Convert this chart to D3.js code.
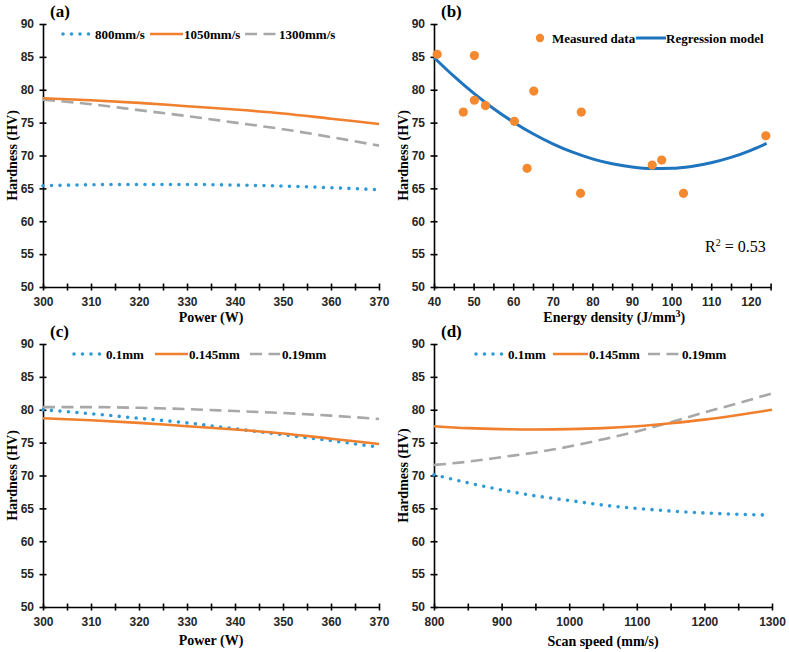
<!DOCTYPE html>
<html lang="en">
<head>
    <meta charset="UTF-8">
    <title>Hardness charts</title>
    <style>
        body { margin: 0; background: #fff; }
        svg { display: block; }
        .axis path, .axis line { stroke: #000; stroke-width: 1.6; }
        .axis text { font-family: "Liberation Sans", Arial, sans-serif; font-weight: bold; font-size: 12px; fill: #262626; }
        .title { font-family: "Liberation Serif", "Times New Roman", serif; font-weight: bold; fill: #000; }
        .legend { font-family: "Liberation Serif", "Times New Roman", serif; font-weight: bold; font-size: 13px; fill: #000; }
        .dotted { fill: none; stroke: #2E9AD8; stroke-width: 3.6; stroke-linecap: round; stroke-dasharray: 0 8.5; }
        .solid { fill: none; stroke: #F07F2E; stroke-width: 2.6; }
        .dashed { fill: none; stroke: #A8A8A8; stroke-width: 2.6; stroke-dasharray: 12 6.5; }
        .model { fill: none; stroke: #1F74BE; stroke-width: 3; }
        .measured { fill: #F5892F; }
    </style>
</head>
<body>
<div id="chart"></div>
<script src="https://cdn.jsdelivr.net/npm/d3@7"></script>
<script>
    // y axis (all panels)
    const hvTicks = [50, 55, 60, 65, 70, 75, 80, 85, 90];

    // (a) power vs hardness for scan speeds
    const powerTicks = [300, 305, 310, 315, 320, 325, 330, 335, 340, 345, 350, 355, 360, 365, 370];
    const power = [300, 310, 320, 330, 340, 350, 360, 370];
    const hv800 = [65.4, 65.55, 65.6, 65.6, 65.5, 65.35, 65.1, 64.8];
    const hv1050 = [78.7, 78.4, 78.0, 77.5, 77.0, 76.4, 75.6, 74.8];
    const hv1300 = [78.5, 77.8, 76.9, 76.0, 75.0, 74.0, 72.8, 71.5];

    // (b) energy density
    const energyTicks = [40, 45, 50, 55, 60, 65, 70, 75, 80, 85, 90, 95, 100, 105, 110, 115, 120, 125];
    const energyMeasured = [40.8, 50.2, 47.4, 50.2, 53.0, 60.3, 65.2, 63.5, 77.2, 77.0, 95.1, 97.5, 103.0, 123.8];
    const hvMeasured = [85.4, 85.2, 76.6, 78.4, 77.6, 75.2, 79.8, 68.05, 76.6, 64.25, 68.55, 69.3, 64.25, 73.0];
    const energyModel = [40, 45, 50, 55, 60, 65, 70, 75, 80, 85, 90, 95, 100, 105, 110, 115, 120, 124];
    const hvModel = [84.9, 82.06, 79.48, 77.16, 75.11, 73.31, 71.78, 70.5, 69.49, 68.74, 68.25, 68.02, 68.05, 68.34, 68.9, 69.71, 70.79, 71.83];

    // (c) power vs hardness for hatch spacing
    const hvHatch01 = [80.0, 79.4, 78.7, 78.0, 77.1, 76.2, 75.3, 74.3];
    const hvHatch0145 = [78.7, 78.4, 78.0, 77.5, 77.0, 76.4, 75.6, 74.8];
    const hvHatch019 = [80.4, 80.4, 80.3, 80.1, 79.8, 79.5, 79.1, 78.6];

    // (d) scan speed vs hardness
    const speedTicks = [800, 850, 900, 950, 1000, 1050, 1100, 1150, 1200, 1250, 1300];
    const speed = [800, 850, 900, 950, 1000, 1050, 1100, 1150, 1200, 1250, 1300];
    const speed01 = [800, 850, 900, 950, 1000, 1050, 1100, 1150, 1200, 1250, 1290];
    const hvSpeed01 = [70.1, 68.9, 67.8, 66.9, 66.2, 65.5, 65.0, 64.6, 64.3, 64.1, 64.0];
    const hvSpeed0145 = [77.5, 77.2, 77.05, 77.0, 77.05, 77.2, 77.5, 77.95, 78.5, 79.2, 80.0];
    const hvSpeed019 = [71.6, 72.1, 72.8, 73.5, 74.4, 75.5, 76.7, 78.1, 79.6, 81.0, 82.5];

    let svg = d3.select("#chart").append("svg")
        .attr("width", 789)
        .attr("height", 652);

    function drawPanel(p) {
        let g = svg.append("g");
        let x = d3.scaleLinear().domain(p.xDomain).range([p.left, p.right]);
        let y = d3.scaleLinear().domain([50, 90]).range([p.bottom, p.top]);

        // axes, ticks cross the axis line
        let xAxis = g.append("g")
            .attr("class", "axis")
            .attr("transform", "translate(0," + p.bottom + ")")
            .call(d3.axisBottom(x)
                .tickValues(p.xTicks)
                .tickSizeOuter(0)
                .tickSizeInner(3.5)
                .tickFormat(function (d) { return d % p.labelStep === 0 ? d : ""; }));
        xAxis.selectAll(".tick line").attr("y1", -3.5).attr("y2", 3.5);
        xAxis.selectAll(".tick text").attr("y", 10);

        let yAxis = g.append("g")
            .attr("class", "axis")
            .attr("transform", "translate(" + p.left + ",0)")
            .call(d3.axisLeft(y).tickValues(hvTicks).tickSizeOuter(0).tickSizeInner(3.5));
        yAxis.selectAll(".tick line").attr("x1", -3.5).attr("x2", 3.5);
        yAxis.selectAll(".tick text").attr("x", -9);

        let line = d3.line()
            .x(function (d) { return x(d[0]); })
            .y(function (d) { return y(d[1]); })
            .curve(d3.curveMonotoneX);

        p.series.forEach(function (s) {
            g.append("path")
                .datum(d3.zip(s.x, s.y))
                .attr("class", s.cls)
                .attr("d", line);
        });

        if (p.points) {
            g.selectAll(".measured")
                .data(d3.zip(p.points.x, p.points.y))
                .enter()
                .append("circle")
                .attr("class", "measured")
                .attr("cx", function (d) { return x(d[0]); })
                .attr("cy", function (d) { return y(d[1]); })
                .attr("r", 4.6);
        }

        // titles
        g.append("text")
            .attr("class", "title")
            .attr("x", p.left + 7)
            .attr("y", p.top - 7)
            .attr("font-size", 17)
            .text(p.tag);
        g.append("text")
            .attr("class", "title")
            .attr("font-size", 14)
            .attr("text-anchor", "middle")
            .attr("transform", "translate(" + (p.left - 26) + "," + ((p.top + p.bottom) / 2) + ") rotate(-90)")
            .text(p.yTitle);
        let xt = g.append("text")
            .attr("class", "title")
            .attr("font-size", 14)
            .attr("text-anchor", "middle")
            .attr("x", (p.left + p.right) / 2 + (p.xTitleDx || 0))
            .attr("y", p.bottom + p.xTitleDy)
            .text(p.xTitle);
        if (p.xTitleSup) {
            xt.append("tspan").attr("dy", -5).attr("font-size", 10).text(p.xTitleSup);
            xt.append("tspan").attr("dy", 5).text(")");
        }

        // legend
        let lg = g.append("g");
        p.legend.forEach(function (l) {
            if (l.cls === "measured") {
                lg.append("circle").attr("class", "measured")
                    .attr("cx", (l.x0 + l.x1) / 2).attr("cy", p.legendY).attr("r", 4.2);
            } else {
                lg.append("line").attr("class", l.cls)
                    .attr("x1", l.x0).attr("x2", l.x1)
                    .attr("y1", p.legendY).attr("y2", p.legendY);
            }
            lg.append("text").attr("class", "legend")
                .attr("x", l.tx).attr("y", p.legendY + 4.5)
                .text(l.label);
        });
        return g;
    }

    drawPanel({
        tag: "(a)", left: 43, right: 379, top: 24, bottom: 287,
        xDomain: [300, 370], xTicks: powerTicks, labelStep: 10,
        yTitle: "Hardness (HV)", xTitle: "Power (W)", xTitleDy: 35,
        series: [
            {x: power, y: hv800, cls: "dotted"},
            {x: power, y: hv1300, cls: "dashed"},
            {x: power, y: hv1050, cls: "solid"}
        ],
        legendY: 34,
        legend: [
            {cls: "dotted", x0: 63, x1: 90, tx: 95, label: "800mm/s"},
            {cls: "solid", x0: 150, x1: 183, tx: 184, label: "1050mm/s"},
            {cls: "dashed", x0: 245, x1: 277, tx: 279, label: "1300mm/s"}
        ]
    });

    let pb = drawPanel({
        tag: "(b)", left: 434, right: 770.6, top: 24, bottom: 287,
        xDomain: [40, 125], xTicks: energyTicks, labelStep: 10,
        yTitle: "Hardness (HV)", xTitle: "Energy density (J/mm", xTitleSup: "3", xTitleDy: 35, xTitleDx: 12,
        series: [
            {x: energyModel, y: hvModel, cls: "model"}
        ],
        points: {x: energyMeasured, y: hvMeasured},
        legendY: 38,
        legend: [
            {cls: "measured", x0: 536, x1: 544, tx: 552, label: "Measured data"},
            {cls: "model", x0: 636, x1: 666, tx: 666, label: "Regression model"}
        ]
    });
    pb.append("text")
        .attr("x", 705).attr("y", 252)
        .attr("font-family", "'Liberation Serif', 'Times New Roman', serif")
        .attr("font-size", 16)
        .text("R")
        .append("tspan").attr("dy", -6).attr("font-size", 10).text("2")
        .select(function () { return this.parentNode; })
        .append("tspan").attr("dy", 6).text(" = 0.53");

    drawPanel({
        tag: "(c)", left: 43, right: 379, top: 344, bottom: 607,
        xDomain: [300, 370], xTicks: powerTicks, labelStep: 10,
        yTitle: "Hardness (HV)", xTitle: "Power (W)", xTitleDy: 38,
        series: [
            {x: power, y: hvHatch019, cls: "dashed"},
            {x: power, y: hvHatch01, cls: "dotted"},
            {x: power, y: hvHatch0145, cls: "solid"}
        ],
        legendY: 354,
        legend: [
            {cls: "dotted", x0: 74, x1: 101, tx: 106, label: "0.1mm"},
            {cls: "solid", x0: 155, x1: 188, tx: 189, label: "0.145mm"},
            {cls: "dashed", x0: 250, x1: 280, tx: 282, label: "0.19mm"}
        ]
    });

    drawPanel({
        tag: "(d)", left: 434, right: 772, top: 344, bottom: 607,
        xDomain: [800, 1300], xTicks: speedTicks, labelStep: 100,
        yTitle: "Hardmess (HV)", xTitle: "Scan speed (mm/s)", xTitleDy: 39,
        series: [
            {x: speed01, y: hvSpeed01, cls: "dotted"},
            {x: speed, y: hvSpeed019, cls: "dashed"},
            {x: speed, y: hvSpeed0145, cls: "solid"}
        ],
        legendY: 354,
        legend: [
            {cls: "dotted", x0: 476, x1: 504, tx: 508, label: "0.1mm"},
            {cls: "solid", x0: 553, x1: 588, tx: 589, label: "0.145mm"},
            {cls: "dashed", x0: 648, x1: 680, tx: 682, label: "0.19mm"}
        ]
    });
</script>
</body>
</html>
